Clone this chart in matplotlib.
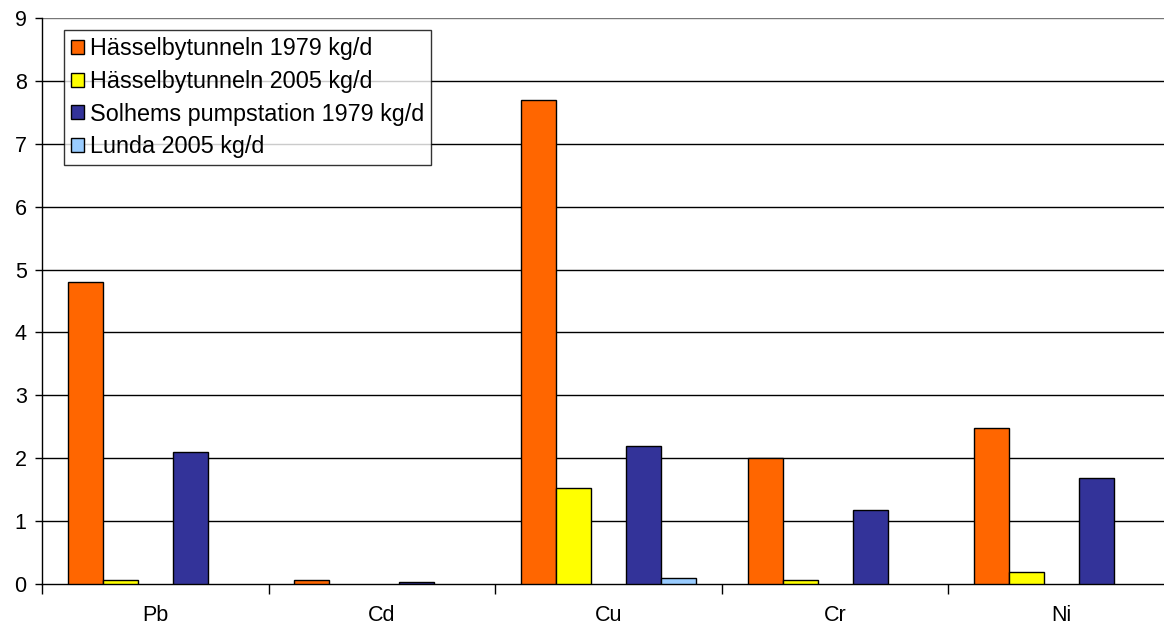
import matplotlib.pyplot as plt
import numpy as np

plt.rcParams['font.family'] = ['Liberation Sans', 'DejaVu Sans']

metals = ["Pb", "Cd", "Cu", "Cr", "Ni"]
hassel_1979 = [4.8, 0.06, 7.7, 2.0, 2.48]
hassel_2005 = [0.06, 0.0, 1.52, 0.06, 0.19]
solhem_1979 = [2.1, 0.03, 2.2, 1.17, 1.68]
lunda_2005 = [0.0, 0.0, 0.1, 0.0, 0.0]

series = [
    ("Hässelbytunneln 1979 kg/d", hassel_1979, "#FF6600", -2),
    ("Hässelbytunneln 2005 kg/d", hassel_2005, "#FFFF00", -1),
    ("Solhems pumpstation 1979 kg/d", solhem_1979, "#333399", 1),
    ("Lunda 2005 kg/d", lunda_2005, "#99CCFF", 2),
]

fig = plt.figure(figsize=(11.64, 6.32), dpi=100)
ax = fig.add_axes([42 / 1164, 48 / 632, 1133 / 1164, 566 / 632])

centers = np.arange(len(metals)) + 0.5
w = 35 / 226.5
for label, vals, color, slot in series:
    vals = np.array(vals, dtype=float)
    vals[vals == 0] = np.nan  # Excel draws nothing for empty cells
    ax.bar(centers + slot * w, vals, width=w, color=color, edgecolor="black",
           linewidth=1, label=label, zorder=3)

ax.set_xlim(0, 5)
ax.set_ylim(0, 9)
ax.set_yticks(range(10))
for y in range(1, 10):
    ax.axhline(y, color="black" if y < 9 else "#777777", linewidth=1, zorder=1)

ax.set_xticks(range(6))
ax.set_xticklabels([])
ax.set_xticks(centers, minor=True)
ax.set_xticklabels(metals, minor=True)
ax.tick_params(axis="x", which="major", direction="out", length=7, width=1)
ax.tick_params(axis="x", which="minor", length=0, pad=15, labelsize=15.5)
ax.tick_params(axis="y", direction="out", length=5, width=1, labelsize=15.5, pad=6)

for s in ["top", "right"]:
    ax.spines[s].set_visible(False)
ax.spines["left"].set_linewidth(1)
ax.spines["bottom"].set_linewidth(1)

leg = ax.legend(loc="upper left", bbox_to_anchor=(22 / 1133, 1 - 12 / 566),
                fontsize=16.8, frameon=True, fancybox=False, borderaxespad=0,
                handlelength=0.55, handleheight=0.55, handletextpad=0.25,
                labelspacing=0.42, borderpad=0.3)
leg.get_frame().set_edgecolor("black")
leg.get_frame().set_linewidth(1)
leg.set_zorder(5)

fig.savefig("out.png", dpi=100)
